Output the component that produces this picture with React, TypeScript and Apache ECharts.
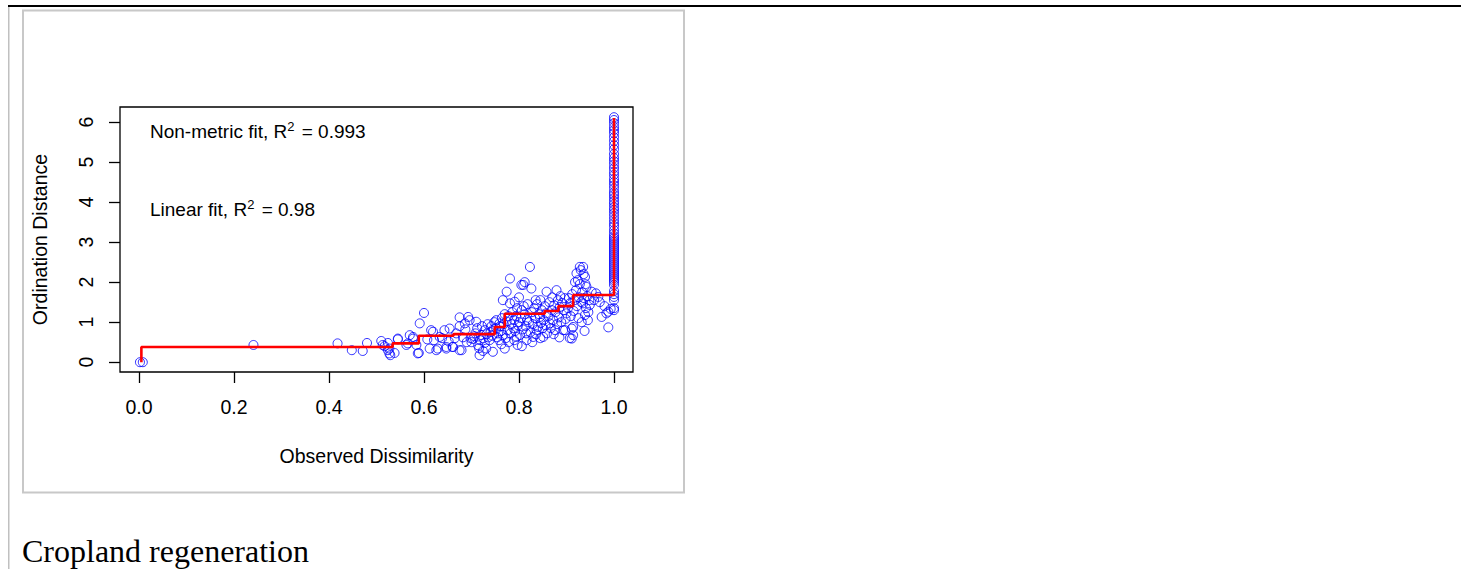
import React, { useEffect, useRef } from "react";
import * as echarts from "echarts";

const xTicks = [0, 0.2, 0.4, 0.6, 0.8, 1.0];
const yTicks = [0, 1, 2, 3, 4, 5, 6];

const xTitle = "Observed Dissimilarity";
const yTitle = "Ordination Distance";
const caption = "Cropland regeneration";
const nonMetricR2 = "0.993";
const linearR2 = "0.98";

// Non-metric (isotonic) fit, drawn as a step line (step: "end")
const fitSteps: [number, number][] = [
  [0.005, 0.0], [0.005, 0.38], [0.534, 0.47], [0.589, 0.66], [0.662, 0.70],
  [0.749, 0.88], [0.770, 1.21], [0.854, 1.28], [0.883, 1.40], [0.914, 1.68],
  [1.0, 6.1],
];

// Observed dissimilarity vs ordination distance
const shepardPoints: [number, number][] = [
  [0.002, 0.0], [0.008, 0.0],
  [0.241, 0.43],
  [0.418, 0.47], [0.448, 0.30], [0.471, 0.28], [0.480, 0.48],
  [0.510, 0.53], [0.517, 0.40], [0.524, 0.48], [0.527, 0.34], [0.529, 0.175], [0.538, 0.23],
  [0.545, 0.57], [0.524, 0.30], [0.513, 0.43], [0.527, 0.22],
  [0.566, 0.47], [0.570, 0.675], [0.577, 0.63], [0.584, 0.43], [0.589, 0.23], [0.591, 0.97],
  [0.600, 1.23], [0.563, 0.43], [0.577, 0.59], [0.587, 0.22], [0.545, 0.59],
  [0.607, 0.57], [0.612, 0.34], [0.619, 0.76], [0.626, 0.30], [0.633, 0.63], [0.643, 0.80],
  [0.647, 0.34], [0.654, 0.84], [0.660, 0.38], [0.668, 0.72], [0.675, 0.90], [0.679, 0.30],
  [0.687, 0.82], [0.693, 1.13],
  [0.615, 0.80], [0.629, 0.34], [0.647, 0.38], [0.661, 0.38], [0.675, 0.30], [0.675, 1.12],
  [0.686, 0.97], [0.696, 1.05],
  [0.621, 0.55], [0.638, 0.60], [0.652, 0.52], [0.665, 0.60], [0.682, 0.62], [0.690, 0.50], [0.698, 0.60],
  [0.710, 1.01], [0.717, 0.175], [0.731, 0.34], [0.728, 0.80], [0.745, 0.26],
  [0.700, 0.50], [0.703, 0.58], [0.706, 0.65], [0.708, 0.72], [0.712, 0.85], [0.714, 0.42],
  [0.718, 0.55], [0.720, 0.68], [0.722, 0.90], [0.725, 0.60], [0.728, 0.48], [0.732, 0.70],
  [0.735, 0.62], [0.738, 0.55], [0.740, 0.75], [0.742, 0.90], [0.744, 0.66], [0.746, 0.82],
  [0.748, 1.00], [0.734, 0.95], [0.716, 0.35], [0.724, 0.28],
  [0.752, 1.05], [0.759, 0.97], [0.770, 0.34], [0.766, 1.55], [0.774, 1.76], [0.781, 2.09], [0.781, 1.47],
  [0.752, 0.85], [0.754, 0.62], [0.756, 0.72], [0.758, 0.55], [0.760, 0.90], [0.762, 0.78],
  [0.764, 1.10], [0.766, 0.68], [0.768, 0.95], [0.770, 1.20], [0.772, 0.60], [0.774, 1.02],
  [0.776, 0.80], [0.778, 1.15], [0.778, 0.50], [0.763, 0.45],
  [0.791, 1.51], [0.795, 0.63], [0.797, 0.43], [0.805, 1.93], [0.812, 2.00], [0.816, 0.55], [0.809, 1.93],
  [0.782, 0.72], [0.784, 0.95], [0.786, 1.25], [0.788, 0.85], [0.790, 1.05], [0.792, 0.78],
  [0.794, 1.15], [0.796, 1.35], [0.798, 0.92], [0.800, 1.00], [0.802, 0.68], [0.804, 1.10],
  [0.806, 1.30], [0.808, 0.82], [0.810, 1.40], [0.812, 1.20], [0.814, 0.90], [0.815, 0.72],
  [0.817, 1.05], [0.818, 1.45], [0.800, 1.62], [0.790, 0.55], [0.806, 0.40],
  [0.823, 2.38], [0.826, 1.84], [0.830, 0.63], [0.837, 0.80], [0.844, 1.13], [0.851, 0.63], [0.858, 1.76],
  [0.821, 1.00], [0.824, 0.75], [0.827, 1.25], [0.829, 0.95], [0.832, 1.35], [0.834, 1.10],
  [0.836, 0.70], [0.838, 1.45], [0.840, 0.88], [0.842, 1.20], [0.845, 1.55], [0.846, 0.98],
  [0.848, 1.30], [0.850, 0.85], [0.852, 1.05], [0.854, 1.40], [0.856, 0.92], [0.857, 1.22],
  [0.859, 0.72], [0.845, 0.60], [0.835, 1.55], [0.828, 0.50],
  [0.865, 0.97], [0.869, 1.30], [0.876, 0.80], [0.879, 1.80], [0.886, 1.38], [0.897, 0.80], [0.900, 1.22],
  [0.862, 1.15], [0.864, 1.50], [0.867, 0.85], [0.870, 1.62], [0.872, 1.05], [0.874, 1.42],
  [0.877, 1.25], [0.880, 0.95], [0.882, 1.55], [0.884, 1.12], [0.887, 1.65], [0.889, 1.00],
  [0.891, 1.48], [0.893, 0.80], [0.894, 1.30], [0.896, 1.60], [0.898, 1.08], [0.873, 0.70], [0.885, 0.62],
  [0.907, 1.47], [0.914, 0.88], [0.911, 0.59], [0.918, 2.00], [0.921, 2.22], [0.928, 2.38],
  [0.935, 2.38], [0.939, 2.13], [0.942, 1.88], [0.935, 1.47], [0.939, 1.18], [0.949, 1.43],
  [0.953, 1.76], [0.907, 0.60], [0.914, 0.675], [0.911, 0.84],
  [0.903, 1.35], [0.905, 1.60], [0.909, 1.15], [0.912, 1.70], [0.915, 1.28], [0.917, 1.55],
  [0.920, 1.80], [0.922, 1.40], [0.924, 2.05], [0.926, 1.62], [0.928, 1.95], [0.930, 2.30],
  [0.931, 1.50], [0.933, 1.75], [0.936, 2.20], [0.937, 1.60], [0.940, 1.95], [0.941, 1.35],
  [0.944, 1.65], [0.946, 1.25], [0.948, 1.55], [0.925, 1.10], [0.932, 1.00], [0.938, 0.78], [0.945, 1.05],
  [0.967, 1.63], [0.974, 1.13], [0.988, 1.26], [0.988, 0.87], [0.984, 1.22], [0.958, 1.55],
  [0.962, 1.72], [0.970, 1.50], [0.980, 1.40], [0.993, 1.33],
  [1.0, 6.12], [1.0, 6.05], [1.0, 5.97], [1.0, 5.88], [1.0, 5.80], [1.0, 5.72], [1.0, 5.62],
  [1.0, 5.52], [1.0, 5.42], [1.0, 5.32], [1.0, 5.20], [1.0, 5.10], [1.0, 5.02], [1.0, 4.94],
  [1.0, 4.85], [1.0, 4.76], [1.0, 4.68], [1.0, 4.58], [1.0, 4.50], [1.0, 4.42], [1.0, 4.34],
  [1.0, 4.25], [1.0, 4.18], [1.0, 4.10], [1.0, 4.02], [1.0, 3.95], [1.0, 3.87], [1.0, 3.80],
  [1.0, 3.72], [1.0, 3.64], [1.0, 3.56], [1.0, 3.48], [1.0, 3.40], [1.0, 3.30], [1.0, 3.22],
  [1.0, 3.15], [1.0, 3.10], [1.0, 3.05], [1.0, 3.00], [1.0, 2.95], [1.0, 2.90], [1.0, 2.85],
  [1.0, 2.80], [1.0, 2.75], [1.0, 2.70], [1.0, 2.65], [1.0, 2.60], [1.0, 2.55], [1.0, 2.50],
  [1.0, 2.45], [1.0, 2.40], [1.0, 2.35], [1.0, 2.30], [1.0, 2.25], [1.0, 2.20], [1.0, 2.15],
  [1.0, 2.10], [1.0, 2.05], [1.0, 2.00], [1.0, 1.93], [1.0, 1.78], [1.0, 1.70], [1.0, 1.63],
  [1.0, 1.55], [1.0, 1.35], [1.0, 1.30],
];

const AXIS_FONT = "'Liberation Sans', Arial, sans-serif";

export default function App() {
  const ref = useRef<HTMLDivElement>(null);

  useEffect(() => {
    if (!ref.current) return;
    const chart = echarts.init(ref.current, undefined, { renderer: "svg" });
    const textStyleBase = { fontSize: 19.5, fontFamily: AXIS_FONT, color: "#000" };
    const rich = {
      sup: { fontSize: 13, fontFamily: AXIS_FONT, fill: "#000", padding: [0, 2, 10, 0] },
      base: { fontSize: 19, fontFamily: AXIS_FONT, fill: "#000" },
    };
    chart.setOption({
      animation: false,
      backgroundColor: "#fff",
      grid: {
        left: 120,
        top: 107,
        width: 513,
        height: 265,
        show: true,
        borderColor: "#000",
        borderWidth: 1.3,
        backgroundColor: "transparent",
      },
      xAxis: {
        type: "value",
        min: -0.04,
        max: 1.04,
        splitLine: { show: false },
        axisLine: { show: false, onZero: false },
        axisTick: {
          show: true,
          length: 11,
          customValues: xTicks,
          lineStyle: { color: "#000", width: 1.3 },
        },
        axisLabel: {
          customValues: xTicks,
          formatter: (v: number) => v.toFixed(1),
          margin: 25,
          ...textStyleBase,
        },
        name: xTitle,
        nameLocation: "middle",
        nameGap: 74,
        nameTextStyle: textStyleBase,
      },
      yAxis: {
        type: "value",
        min: -0.245,
        max: 6.375,
        splitLine: { show: false },
        axisLine: { show: false, onZero: false },
        axisTick: {
          show: true,
          length: 11,
          customValues: yTicks,
          lineStyle: { color: "#000", width: 1.3 },
        },
        axisLabel: {
          customValues: yTicks,
          rotate: 90,
          margin: 24,
          formatter: (v: number) => String(v),
          ...textStyleBase,
        },
        name: yTitle,
        nameLocation: "middle",
        nameGap: 70,
        nameTextStyle: textStyleBase,
      },
      series: [
        {
          type: "scatter",
          data: shepardPoints,
          symbol: "circle",
          symbolSize: 9,
          itemStyle: { color: "rgba(0,0,0,0)", borderColor: "#0000FF", borderWidth: 1 },
          z: 2,
        },
        {
          type: "line",
          data: fitSteps,
          step: "end",
          showSymbol: false,
          symbol: "none",
          lineStyle: { color: "#FF0000", width: 2.6 },
          z: 3,
        },
      ],
      graphic: [
        { type: "rect", shape: { x: 8, y: 5, width: 1453, height: 2 }, style: { fill: "#000" }, z: 10 },
        { type: "rect", shape: { x: 8, y: 7, width: 1.5, height: 562 }, style: { fill: "#c0c0c0" }, z: 10 },
        {
          type: "rect",
          shape: { x: 23, y: 10.5, width: 661, height: 482 },
          style: { fill: "none", stroke: "#c8c8c8", lineWidth: 2 },
          z: 10,
        },
        {
          type: "text",
          x: 150,
          y: 131,
          style: {
            text: "{base|Non-metric fit, R}{sup|2}{base| = " + nonMetricR2 + "}",
            rich,
            align: "left",
            verticalAlign: "middle",
          },
          z: 10,
        },
        {
          type: "text",
          x: 150,
          y: 209,
          style: {
            text: "{base|Linear fit, R}{sup|2}{base| = " + linearR2 + "}",
            rich,
            align: "left",
            verticalAlign: "middle",
          },
          z: 10,
        },
        {
          type: "text",
          x: 22,
          y: 551,
          style: {
            text: caption,
            fontSize: 32,
            fontFamily: "'Liberation Serif', 'Times New Roman', serif",
            fill: "#000",
            align: "left",
            verticalAlign: "middle",
          },
          z: 10,
        },
      ],
    });
    return () => chart.dispose();
  }, []);

  return (
    <div
      ref={ref}
      style={{ position: "fixed", left: 0, top: 0, width: 1461, height: 569 }}
    />
  );
}
